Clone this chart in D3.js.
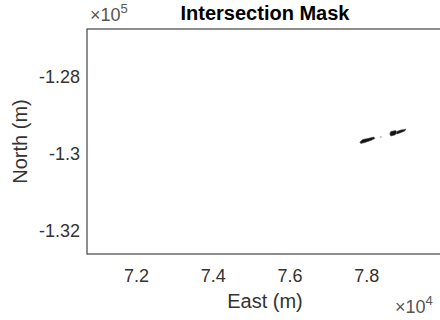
<!DOCTYPE html>
<html>
<head>
<meta charset="utf-8">
<script src="https://cdn.jsdelivr.net/npm/d3@7"></script>
<style>
  body { margin: 0; background: #fff; }
  svg { font-family: "Liberation Sans", Arial, sans-serif; }
</style>
</head>
<body>
<svg id="chart" width="440" height="320"></svg>
<script>
// axis limits (metres) and tick values
const eastLimits = [70724, 80000];
const northLimits = [-132600, -126750];
const eastTicks = [72000, 74000, 76000, 78000];
const northTicks = [-132000, -130000, -128000];

// mask patches, outlines in [east, north]
const maskPatchA = [[77833, -129688], [77911, -129623], [78041, -129597], [78198, -129558],
  [78224, -129597], [78119, -129649], [77963, -129701], [77859, -129727]];
const maskPatchB = [[78614, -129480], [78640, -129415], [78770, -129389], [78796, -129454],
  [78744, -129506], [78640, -129532]];
const maskPatchC = [[78796, -129415], [78900, -129376], [79004, -129363], [79030, -129350],
  [79004, -129402], [78874, -129454], [78796, -129480]];
const maskDots = [[78380, -129558]];

const svg = d3.select('#chart');
const margin = { top: 29, right: -3, bottom: 66, left: 87 };
const width = 440 - margin.left - margin.right;
const height = 320 - margin.top - margin.bottom;

const x = d3.scaleLinear().domain(eastLimits).range([0, width]);
const y = d3.scaleLinear().domain(northLimits).range([height, 0]);

const chart = svg.append('g').attr('transform', `translate(${margin.left},${margin.top})`);

// patches
const line = d3.line().x(d => x(d[0])).y(d => y(d[1])).curve(d3.curveLinearClosed);
chart.selectAll('path.mask')
  .data([maskPatchA, maskPatchB, maskPatchC])
  .enter()
  .append('path')
  .attr('class', 'mask')
  .attr('d', line)
  .attr('fill', '#111')
  .attr('stroke', '#444')
  .attr('stroke-width', 0.6);

chart.selectAll('circle.dot')
  .data(maskDots)
  .enter()
  .append('circle')
  .attr('cx', d => x(d[0]))
  .attr('cy', d => y(d[1]))
  .attr('r', 1)
  .attr('fill', '#bbb');

// axes, no tick marks
const xAxis = chart.append('g')
  .attr('transform', `translate(0,${height})`)
  .call(d3.axisBottom(x).tickValues(eastTicks).tickSize(0).tickPadding(15)
    .tickFormat(d => d3.format('.1f')(d / 1e4)));
const yAxis = chart.append('g')
  .call(d3.axisLeft(y).tickValues(northTicks).tickSize(0).tickPadding(7)
    .tickFormat(d => String(+(d / 1e5).toFixed(2))));
[xAxis, yAxis].forEach(a => {
  a.select('.domain').remove();
  a.selectAll('text').style('font-size', '18px').attr('fill', '#333')
    .attr('font-family', '"Liberation Sans", Arial, sans-serif');
});

// box
chart.append('rect')
  .attr('width', width).attr('height', height)
  .attr('fill', 'none').attr('stroke', '#444').attr('stroke-width', 1.2);

// labels
svg.append('text')
  .attr('x', margin.left + width / 2).attr('y', 20)
  .attr('text-anchor', 'middle')
  .style('font-size', '20px').style('font-weight', 'bold').attr('fill', '#000')
  .text('Intersection Mask');

svg.append('text')
  .attr('x', margin.left + width / 2).attr('y', 308)
  .attr('text-anchor', 'middle')
  .style('font-size', '20px').attr('fill', '#333')
  .text('East (m)');

svg.append('text')
  .attr('transform', `translate(27,${margin.top + height / 2}) rotate(-90)`)
  .attr('text-anchor', 'middle')
  .style('font-size', '20px').attr('fill', '#333')
  .text('North (m)');

// exponent labels
const expY = svg.append('text').attr('x', 90).attr('y', 21)
  .style('font-size', '18px').attr('fill', '#555');
expY.append('tspan').text('\u00d710');
expY.append('tspan').attr('dy', -8).style('font-size', '13px').text('5');

const expX = svg.append('text').attr('x', 395).attr('y', 313)
  .style('font-size', '18px').attr('fill', '#555');
expX.append('tspan').text('\u00d710');
expX.append('tspan').attr('dy', -8).style('font-size', '13px').text('4');
</script>
</body>
</html>
